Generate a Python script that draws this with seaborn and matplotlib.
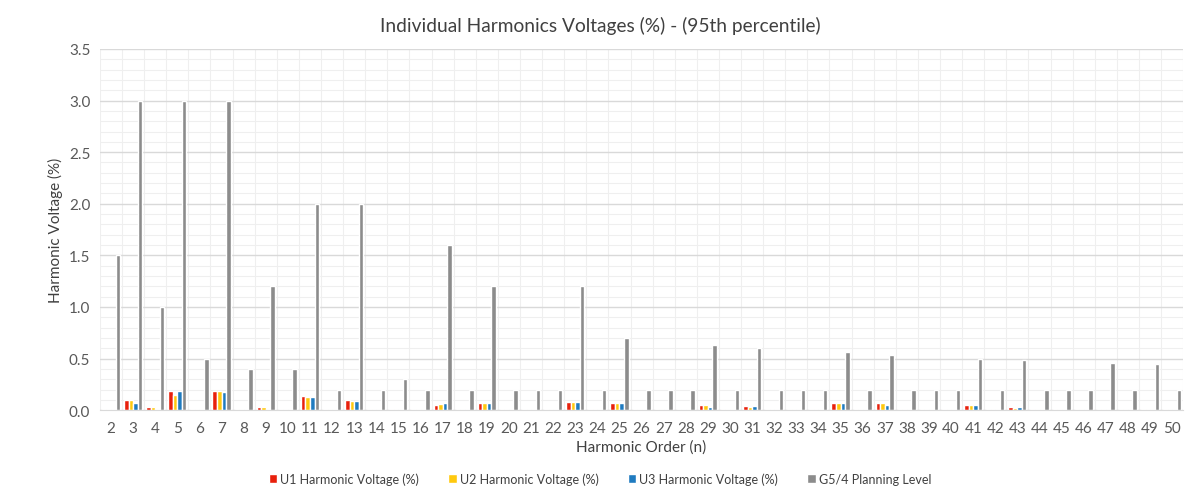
import numpy as np
import pandas as pd
import matplotlib.pyplot as plt
import seaborn as sns
from matplotlib.ticker import MultipleLocator, FormatStrFormatter
from matplotlib.patches import Patch

sns.set_style("white")
plt.rcParams['font.family'] = ['Lato', 'DejaVu Sans']

# Harmonic orders 2..50
orders = [str(n) for n in range(2, 51)]

# Measured 95th percentile harmonic voltages (%) per phase
u1 = [0.01, 0.10, 0.03, 0.19, 0.01, 0.19, 0.01, 0.03, 0.01, 0.14,
      0.01, 0.10, 0.01, 0.01, 0.01, 0.05, 0.01, 0.07, 0.01, 0.01,
      0.01, 0.08, 0.01, 0.07, 0.01, 0.01, 0.01, 0.05, 0.01, 0.04,
      0.01, 0.01, 0.01, 0.07, 0.01, 0.07, 0.01, 0.01, 0.01, 0.05,
      0.01, 0.03, 0.01, 0.01, 0.01, 0.01, 0.01, 0.01, 0.01]
u2 = [0.01, 0.10, 0.03, 0.15, 0.01, 0.19, 0.01, 0.03, 0.01, 0.13,
      0.01, 0.09, 0.01, 0.01, 0.01, 0.06, 0.01, 0.07, 0.01, 0.01,
      0.01, 0.08, 0.01, 0.07, 0.01, 0.01, 0.01, 0.05, 0.01, 0.03,
      0.01, 0.01, 0.01, 0.07, 0.01, 0.07, 0.01, 0.01, 0.01, 0.05,
      0.01, 0.02, 0.01, 0.01, 0.01, 0.01, 0.01, 0.01, 0.01]
u3 = [0.01, 0.07, 0.01, 0.19, 0.01, 0.18, 0.01, 0.01, 0.01, 0.13,
      0.01, 0.09, 0.01, 0.01, 0.01, 0.07, 0.01, 0.07, 0.01, 0.01,
      0.01, 0.08, 0.01, 0.07, 0.01, 0.01, 0.01, 0.03, 0.01, 0.04,
      0.01, 0.01, 0.01, 0.07, 0.01, 0.05, 0.01, 0.01, 0.01, 0.05,
      0.01, 0.03, 0.01, 0.01, 0.01, 0.01, 0.01, 0.01, 0.01]
# G5/4 planning levels (%)
g54 = [1.5, 3.0, 1.0, 3.0, 0.5, 3.0, 0.4, 1.2, 0.4, 2.0,
       0.2, 2.0, 0.2, 0.3, 0.2, 1.6, 0.2, 1.2, 0.2, 0.2,
       0.2, 1.2, 0.2, 0.7, 0.2, 0.2, 0.2, 0.63, 0.2, 0.6,
       0.2, 0.2, 0.2, 0.56, 0.2, 0.53, 0.2, 0.2, 0.2, 0.5,
       0.2, 0.49, 0.2, 0.2, 0.2, 0.46, 0.2, 0.45, 0.2]

series = ['U1 Harmonic Voltage (%)', 'U2 Harmonic Voltage (%)',
          'U3 Harmonic Voltage (%)', 'G5/4 Planning Level']
colors = ['#E8200C', '#FFC90E', '#1F7BC0', '#8C8C8C']

df = pd.DataFrame({'order': orders * 4,
                   'value': u1 + u2 + u3 + g54,
                   'series': np.repeat(series, len(orders))})

fig = plt.figure(figsize=(12, 5.02), dpi=100)
ax = fig.add_axes([0.0833, 0.181, 0.9027, 0.7194])

sns.barplot(data=df, x='order', y='value', hue='series', order=orders,
            hue_order=series, palette=colors, width=0.82, saturation=1,
            legend=False, ax=ax)

ax.set_ylim(0, 3.5)
ax.set_xlim(-0.5, len(orders) - 0.5)
ax.yaxis.set_major_locator(MultipleLocator(0.5))
ax.yaxis.set_minor_locator(MultipleLocator(0.1))
ax.yaxis.set_major_formatter(FormatStrFormatter('%.1f'))
ax.set_xticks(np.arange(-0.5, len(orders), 0.5), minor=True)

ax.grid(True, which='major', axis='y', color='#D9D9D9', linewidth=1)
ax.grid(True, which='minor', axis='y', color='#EFEFEF', linewidth=0.8)
ax.grid(True, which='minor', axis='x', color='#EFEFEF', linewidth=0.8)
ax.set_axisbelow(True)

for s in ['top', 'right', 'left']:
    ax.spines[s].set_visible(False)
ax.spines['bottom'].set_color('#D9D9D9')
ax.tick_params(axis='both', which='both', length=0, colors='#595959', labelsize=11)
ax.tick_params(axis='x', pad=8)
ax.tick_params(axis='y', pad=7)

ax.set_xlabel('Harmonic Order (n)', fontsize=11, color='#404040', labelpad=3)
ax.set_ylabel('Harmonic Voltage (%)', fontsize=11, color='#404040')
ax.yaxis.set_label_coords(-0.034, 0.5)
fig.suptitle('Individual Harmonics Voltages (%) - (95th percentile)',
             fontsize=13.8, color='#404040', y=0.966)

handles = [Patch(facecolor=c, label=l) for c, l in zip(colors, series)]
fig.legend(handles=handles, loc='center', bbox_to_anchor=(0.5, 0.045), ncol=4,
           frameon=False, fontsize=9, handlelength=0.7, handleheight=0.7,
           handletextpad=0.25, columnspacing=2.3, labelcolor='#404040')

fig.savefig('out.png', dpi=100)
